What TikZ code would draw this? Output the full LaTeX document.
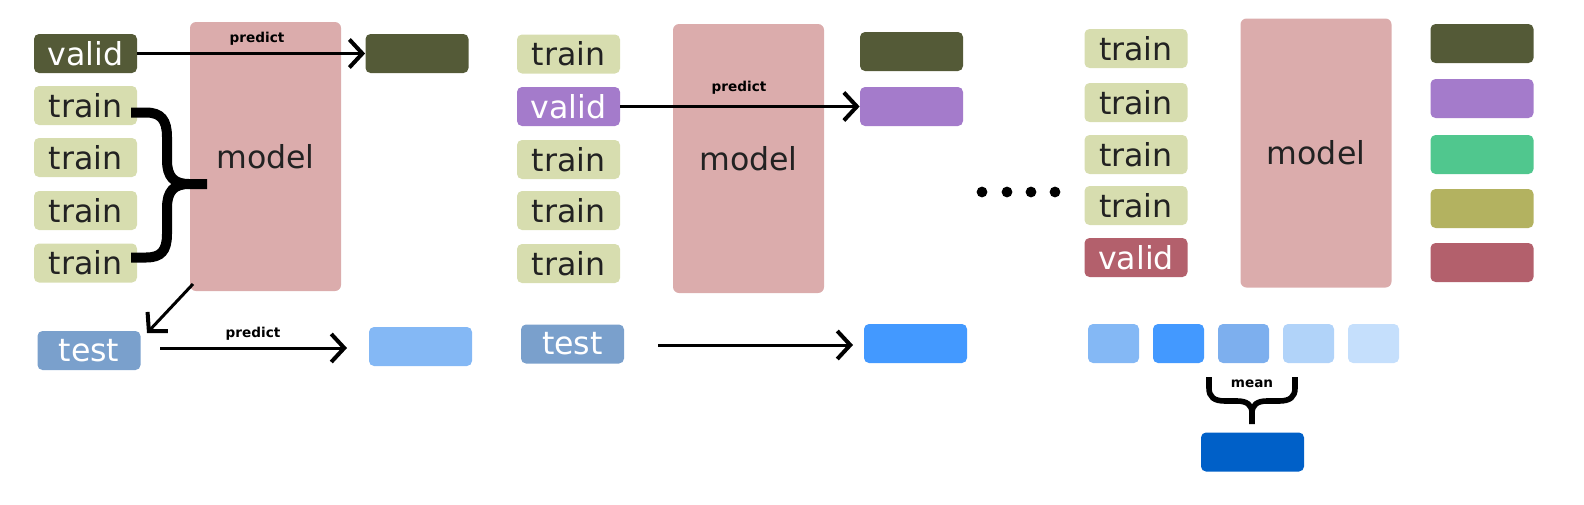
\documentclass[tikz,border=0pt]{standalone}
\usepackage{fontspec}
\setmainfont{DejaVu Sans}
\usetikzlibrary{arrows.meta}
\definecolor{oliveD}{HTML}{545A37}
\definecolor{trainC}{HTML}{D7DDAF}
\definecolor{modelC}{HTML}{DBACAC}
\definecolor{purpleC}{HTML}{A47BCB}
\definecolor{testC}{HTML}{7AA0CC}
\definecolor{blueA}{HTML}{84B8F5}
\definecolor{blueB}{HTML}{4399FF}
\definecolor{blueC}{HTML}{7DAFEE}
\definecolor{blueD}{HTML}{B1D3F9}
\definecolor{blueE}{HTML}{C5DFFC}
\definecolor{blueF}{HTML}{0060C8}
\definecolor{greenC}{HTML}{50C78E}
\definecolor{yelC}{HTML}{B3B260}
\definecolor{roseC}{HTML}{B3606C}
\definecolor{textdark}{HTML}{222222}
\begin{document}
\begin{tikzpicture}[x=0.5pt,y=-0.5pt,
 blk/.style={rounded corners=2.5pt, minimum width=51.5pt, minimum height=19.5pt, inner sep=0pt, font=\fontsize{15.8}{18}\selectfont},
 trn/.style={blk, fill=trainC, text=textdark},
 vld/.style={blk, text=white},
 sq/.style={rounded corners=2.5pt, minimum width=25.5pt, minimum height=19.5pt, inner sep=0pt},
 mdl/.style={rounded corners=3pt, fill=modelC, minimum width=75.5pt, minimum height=134.5pt, inner sep=0pt, text=textdark, font=\fontsize{15.8}{18}\selectfont},
 arr/.style={line width=1.5pt, -{Straight Barb[length=6.5pt,width=14pt,line width=2pt]}},
 lbl/.style={font=\bfseries\fontsize{6.8}{8}\selectfont, inner sep=0pt},
 brace/.style={line width=5pt},
 mbrace/.style={line width=2.8pt}
]
\useasboundingbox (0,0) rectangle (1584,504);

% ---------- left panel ----------
\node[mdl] (mL) at (265.5,156.5) {model};
\node[vld, fill=oliveD] (vL) at (85.5,53.5) {valid};
\node[trn] (tL1) at (85.5,105.5) {train};
\node[trn] (tL2) at (85.5,157.5) {train};
\node[trn] (tL3) at (85.5,210.5) {train};
\node[trn] (tL4) at (85.5,263) {train};
\node[blk, fill=oliveD] (oL1) at (417,53.5) {};
\node[vld, fill=testC] (teL) at (89,350.5) {test};
\node[blk, fill=blueA] (oL2) at (420.5,346.5) {};
\draw[arr] (vL.east) -- (oL1.west);
\node[lbl] (pL1) at (257,39) {predict};
\coordinate (mLc) at (193,284);
\coordinate (teLc) at (147,333);
\draw[arr] (mLc) -- (teLc);
\coordinate (pa) at (160,348);
\coordinate (pb) at (347,348);
\draw[arr] (pa) -- (pb);
\node[lbl] (pL2) at (253,334) {predict};
\draw[brace] (131,112.5) -- (146,112.5) .. controls (161,112.5) and (167,120) .. (167,137) -- (167,160)
  .. controls (167,177) and (174,184) .. (189,184) -- (207,184);
\draw[brace] (189,184) .. controls (174,184) and (167,191) .. (167,208) -- (167,234)
  .. controls (167,251) and (161,257.5) .. (146,257.5) -- (131,257.5);

% ---------- middle panel ----------
\node[mdl] (mM) at (748.5,158.5) {model};
\node[trn] (tM1) at (568.5,54) {train};
\node[vld, fill=purpleC] (vM) at (568.5,106.5) {valid};
\node[trn] (tM3) at (568.5,159.5) {train};
\node[trn] (tM4) at (568.5,210.5) {train};
\node[trn] (tM5) at (568.5,263.5) {train};
\node[blk, fill=oliveD] (oM1) at (911.5,51.5) {};
\node[blk, fill=purpleC] (oM2) at (911.5,106.5) {};
\draw[arr] (vM.east) -- (oM2.west);
\node[lbl] (pM) at (739,88) {predict};
\node[vld, fill=testC] (teM) at (572.5,344) {test};
\node[blk, fill=blueB] (oM3) at (915.5,343.5) {};
\coordinate (qa) at (658,345);
\coordinate (qb) at (853,345);
\draw[arr] (qa) -- (qb);

% ---------- dots ----------
\foreach \dx in {982,1007,1031,1055} \fill (\dx,192) circle (2.7pt);

% ---------- right panel ----------
\node[mdl] (mR) at (1316,153) {model};
\node[trn] (tR1) at (1136,48.5) {train};
\node[trn] (tR2) at (1136,102.5) {train};
\node[trn] (tR3) at (1136,154.5) {train};
\node[trn] (tR4) at (1136,205.5) {train};
\node[vld, fill=roseC] (vR) at (1136,257.5) {valid};
\node[blk, fill=oliveD] (oR1) at (1482,43.5) {};
\node[blk, fill=purpleC] (oR2) at (1482,98.5) {};
\node[blk, fill=greenC] (oR3) at (1482,154.5) {};
\node[blk, fill=yelC] (oR4) at (1482,208.5) {};
\node[blk, fill=roseC] (oR5) at (1482,262.5) {};
\node[sq, fill=blueA] (s1) at (1113.5,343.5) {};
\node[sq, fill=blueB] (s2) at (1178.5,343.5) {};
\node[sq, fill=blueC] (s3) at (1243.5,343.5) {};
\node[sq, fill=blueD] (s4) at (1308.5,343.5) {};
\node[sq, fill=blueE] (s5) at (1373.5,343.5) {};
\node[lbl] (mean) at (1252,384) {mean};
\draw[mbrace] (1209,377) -- (1209,388) .. controls (1209,397) and (1214,401) .. (1225,401) -- (1237,401)
  .. controls (1247,401) and (1252,405) .. (1252,413) -- (1252,424);
\draw[mbrace] (1252,413) .. controls (1252,405) and (1257,401) .. (1267,401) -- (1279,401)
  .. controls (1290,401) and (1295,397) .. (1295,388) -- (1295,377);
\node[blk, fill=blueF] (fin) at (1252.5,452) {};
\end{tikzpicture}
\end{document}
